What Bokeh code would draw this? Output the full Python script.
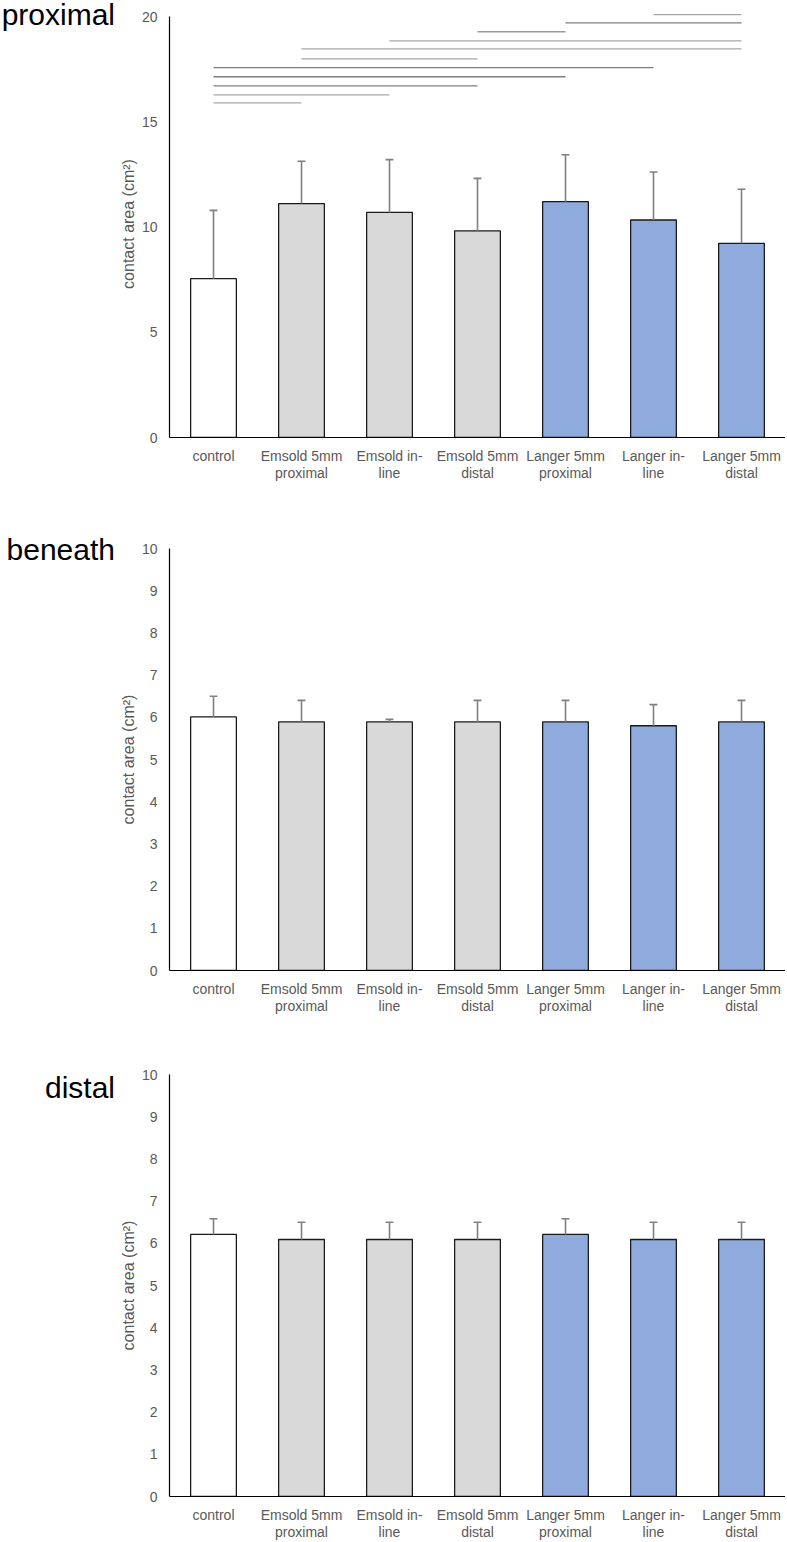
from bokeh.plotting import figure
from bokeh.models import Range1d, FixedTicker, Div
from bokeh.layouts import column, row
from bokeh.embed import file_html
from bokeh.resources import INLINE

categories = ["control", "Emsold 5mm\nproximal", "Emsold in-\nline", "Emsold 5mm\ndistal",
              "Langer 5mm\nproximal", "Langer in-\nline", "Langer 5mm\ndistal"]

proximal_mean = [7.55, 11.12, 10.70, 9.82, 11.21, 10.34, 9.23]
proximal_err = [3.25, 2.01, 2.51, 2.50, 2.23, 2.28, 2.57]

beneath_mean = [6.01, 5.89, 5.89, 5.89, 5.89, 5.80, 5.89]
beneath_err = [0.49, 0.51, 0.06, 0.51, 0.51, 0.50, 0.51]

distal_mean = [6.21, 6.09, 6.09, 6.09, 6.21, 6.09, 6.09]
distal_err = [0.37, 0.41, 0.41, 0.41, 0.37, 0.41, 0.41]

# significance bars (proximal chart): from category index, to category index, level
sig_from = [5, 4, 3, 2, 1, 1, 0, 0, 0, 0, 0]
sig_to = [6, 6, 4, 6, 6, 3, 5, 4, 3, 2, 1]
sig_level = [20.10, 19.71, 19.29, 18.86, 18.48, 18.00, 17.58, 17.15, 16.72, 16.29, 15.91]
sig_colors = ["#a6a6a6", "#7f7f7f", "#999999", "#a6a6a6", "#a6a6a6", "#a6a6a6",
              "#7f7f7f", "#7f7f7f", "#7f7f7f", "#a6a6a6", "#a6a6a6"]

bar_colors = ["#ffffff", "#d9d9d9", "#d9d9d9", "#d9d9d9", "#8faadc", "#8faadc", "#8faadc"]

FONT = "Liberation Sans"
TITLE_W = 116
MAIN_W = 669
LEFT = 53


def title_div(title, height, top):
    html = ('<div style="position:absolute; right:1px; top:%dpx; '
            'font-family:\'Liberation Sans\', Arial, sans-serif; font-size:30px; '
            'line-height:30px; color:#000000; white-space:nowrap;">%s</div>' % (top, title))
    return Div(text=html, width=TITLE_W, height=height, margin=0)


def make(mean, err, yend, ymax, ticks, height, btop, bbottom):
    n = len(categories)
    idx = list(range(n))
    p = figure(width=MAIN_W, height=height, output_backend="svg", toolbar_location=None,
               x_range=Range1d(-0.5, n - 0.5), y_range=Range1d(0, yend),
               min_border_left=LEFT, min_border_right=0, min_border_top=btop,
               min_border_bottom=bbottom)
    p.outline_line_color = None
    p.grid.visible = False

    p.vbar(x=idx, top=mean, bottom=0, width=0.52, fill_color=bar_colors,
           line_color="#1a1a1a", line_width=1.3)
    tops = [m + e for m, e in zip(mean, err)]
    p.segment(x0=idx, y0=mean, x1=idx, y1=tops, line_color="#808080", line_width=1.6)
    p.segment(x0=[i - 0.045 for i in idx], y0=tops, x1=[i + 0.045 for i in idx], y1=tops,
              line_color="#808080", line_width=1.6)

    xa = p.xaxis[0]
    xa.ticker = FixedTicker(ticks=idx)
    xa.major_label_overrides = {i: c for i, c in zip(idx, categories)}
    xa.major_tick_line_color = None
    xa.major_tick_out = 0
    xa.major_tick_in = 0
    xa.minor_tick_line_color = None
    xa.minor_tick_out = 0
    xa.axis_line_color = "#000000"
    xa.axis_line_width = 1.2
    xa.major_label_text_font = FONT
    xa.major_label_text_font_size = "14px"
    xa.major_label_text_color = "#595959"
    xa.major_label_text_line_height = 1.08
    xa.major_label_standoff = 10

    ya = p.yaxis[0]
    ya.ticker = FixedTicker(ticks=ticks)
    ya.bounds = (0, ymax)
    ya.major_tick_line_color = None
    ya.major_tick_out = 0
    ya.major_tick_in = 0
    ya.minor_tick_line_color = None
    ya.minor_tick_out = 0
    ya.axis_line_color = "#000000"
    ya.axis_line_width = 1.2
    ya.major_label_text_font = FONT
    ya.major_label_text_font_size = "14px"
    ya.major_label_text_color = "#595959"
    ya.major_label_standoff = 12
    ya.axis_label = "contact area (cm\u00b2)"
    ya.axis_label_text_font = FONT
    ya.axis_label_text_font_size = "16px"
    ya.axis_label_text_font_style = "normal"
    ya.axis_label_text_color = "#595959"
    ya.axis_label_standoff = 2
    return p


p1 = make(proximal_mean, proximal_err, 20.3, 20, [0, 5, 10, 15, 20], 500, 10, 63)
p1.segment(x0=sig_from, y0=sig_level, x1=sig_to, y1=sig_level, line_color=sig_colors,
           line_width=1.3)
p2 = make(beneath_mean, beneath_err, 10, 10, list(range(11)), 522, 48, 52)
p3 = make(distal_mean, distal_err, 10, 10, list(range(11)), 520, 52, 46)

t1 = title_div("proximal", 500, 0)
t2 = title_div("beneath", 522, 35)
t3 = title_div("distal", 520, 51)

layout = column(row(t1, p1, spacing=0), row(t2, p2, spacing=0), row(t3, p3, spacing=0),
                spacing=0)
open("out.html", "w").write(file_html(layout, INLINE))
